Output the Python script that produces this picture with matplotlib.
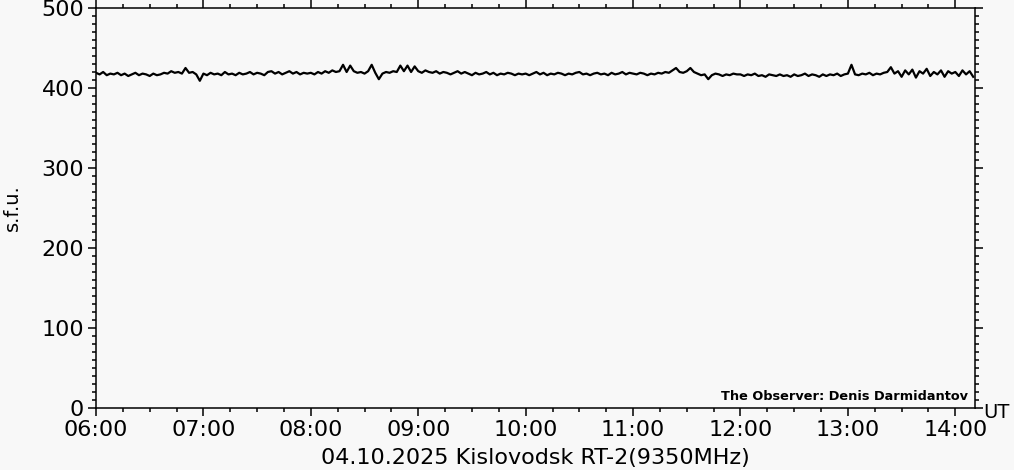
import numpy as np
import matplotlib
matplotlib.use('Agg')
import matplotlib.pyplot as plt
from matplotlib.ticker import MultipleLocator, FuncFormatter

# flux (s.f.u.) sampled every 2 minutes starting 06:00 UT
h06 = [419, 417, 420, 416, 418, 417, 419, 416, 418, 415, 417, 419, 416, 418, 417,
       415, 418, 416, 417, 419, 418, 421, 419, 420, 418, 425, 419, 420, 417, 409]
h07 = [418, 416, 419, 417, 418, 416, 420, 417, 418, 416, 419, 417, 418, 420, 417,
       419, 418, 416, 420, 421, 418, 420, 417, 419, 421, 418, 420, 417, 419, 418]
h08 = [419, 417, 420, 418, 421, 419, 422, 420, 421, 429, 420, 428, 421, 419, 420,
       418, 421, 429, 419, 411, 418, 420, 419, 421, 420, 428, 421, 428, 420, 427]
h09 = [421, 419, 422, 420, 419, 421, 418, 420, 419, 417, 419, 421, 418, 420, 418,
       416, 419, 417, 418, 420, 417, 419, 416, 418, 417, 419, 418, 416, 418, 417]
h10 = [418, 416, 418, 420, 417, 419, 416, 418, 417, 419, 418, 416, 418, 417, 419,
       420, 417, 418, 416, 418, 419, 417, 418, 416, 419, 417, 418, 420, 417, 419]
h11 = [418, 417, 419, 418, 416, 418, 417, 419, 418, 420, 419, 422, 425, 420, 419,
       421, 425, 420, 418, 416, 417, 411, 416, 418, 417, 415, 417, 416, 418, 417]
h12 = [417, 415, 417, 416, 418, 415, 416, 414, 417, 416, 415, 417, 415, 416, 414,
       417, 415, 416, 418, 415, 417, 416, 414, 417, 415, 417, 416, 418, 415, 417]
h13 = [418, 429, 417, 416, 418, 417, 419, 416, 418, 417, 419, 420, 426, 418, 421,
       414, 422, 417, 423, 413, 421, 418, 424, 415, 420, 417, 422, 414, 421, 418]
h14 = [420, 415, 422, 417, 421, 414]

flux = h06 + h07 + h08 + h09 + h10 + h11 + h12 + h13 + h14
start_hour = 6
step_min = 2

title = '04.10.2025 Kislovodsk RT-2(9350MHz)'
observer = 'The Observer: Denis Darmidantov'

bg = '#f8f8f8'
t = start_hour + np.arange(len(flux)) * step_min / 60.0

fig = plt.figure(figsize=(10.14, 4.70), dpi=100, facecolor=bg)
ax = fig.add_axes([96/1014, 1-408/470, (975-96)/1014, 400/470], facecolor=bg)

ax.plot(t, flux, color='black', lw=1.6)

ax.set_xlim(6, 6 + 491/60)
ax.set_ylim(0, 500)

ax.xaxis.set_major_locator(MultipleLocator(1))
ax.xaxis.set_minor_locator(MultipleLocator(0.25))
ax.xaxis.set_major_formatter(FuncFormatter(lambda v, p: '%02d:00' % round(v)))
ax.yaxis.set_major_locator(MultipleLocator(100))
ax.yaxis.set_minor_locator(MultipleLocator(10))

ax.tick_params(which='both', direction='out', top=True, right=True,
               width=1.1, labelsize=16, color='black')
ax.tick_params(which='major', length=5.5, pad=3)
ax.tick_params(which='minor', length=3)
for s in ax.spines.values():
    s.set_linewidth(1.1)

ax.set_ylabel('s.f.u.', fontsize=14, labelpad=14)
ax.text(0.5, -50/400, title, transform=ax.transAxes, ha='center', va='center',
        fontsize=16)
ax.text(0.992, 0.012, observer, transform=ax.transAxes, ha='right', va='bottom',
        fontsize=9.3, fontweight='bold')
ax.text(1.009, -0.012, 'UT', transform=ax.transAxes, ha='left', va='center', fontsize=14)

fig.savefig('out.png', dpi=100, facecolor=bg)
